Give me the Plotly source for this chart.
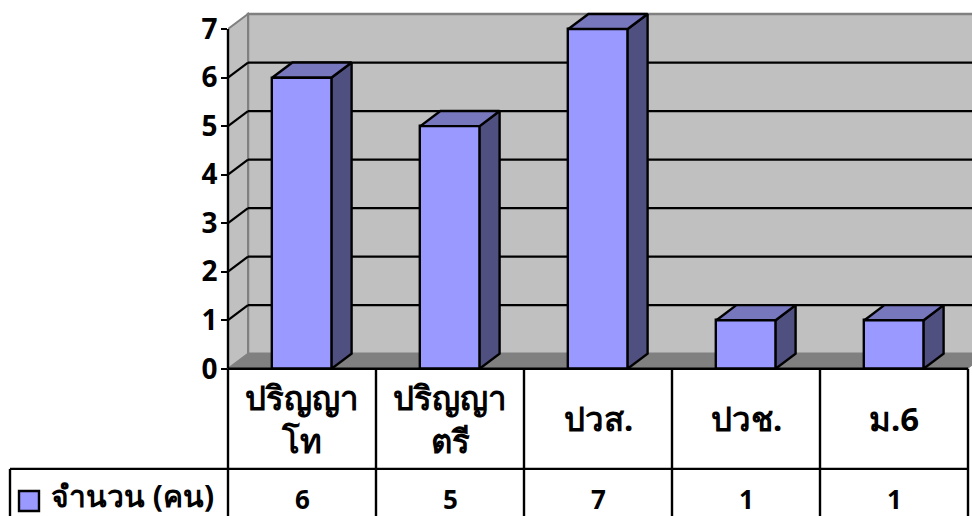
import plotly.graph_objects as go

# Data
categories = ["ปริญญา<br>โท", "ปริญญา<br>ตรี", "ปวส.", "ปวช.", "ม.6"]
values = [6, 5, 7, 1, 1]
series_name = "จำนวน (คน)"
y_ticks = [0, 1, 2, 3, 4, 5, 6, 7]

# Layout constants (pixels of the 972x516 canvas)
W, H = 972, 516
FIG_H = 535                # layout height that comes out as the full 516 px picture
X0, Y0 = 228, 368          # origin of the front plane
CAT_W, UNIT = 148, 48.43   # px per category / px per value unit
DX_PX, DY_PX = 20, 15      # 3-D depth offset
ROW_Y, TABLE_LEFT = 468, 10
FONT = "Noto Sans, DejaVu Sans, sans-serif"
TICK_FONT = "Open Sans, sans-serif"
FRONT, TOP, SIDE = "#9999FF", "#7777BD", "#4F4F80"
WALL, FLOOR, EDGE = "#C0C0C0", "#808080", "#808080"
BAR_W = 0.4

dx, dy = DX_PX / CAT_W, DY_PX / UNIT
xs = list(range(len(categories)))
x_min, x_max = -0.5, (W - X0) / CAT_W - 0.5
y_max = Y0 / UNIT
px = lambda v: v / W
py = lambda v: 1 - v / H

top_x, top_y, side_x, side_y = [], [], [], []
for x, v in zip(xs, values):
    l, r = x - BAR_W / 2, x + BAR_W / 2
    top_x += [l, r, r + dx, l + dx, l, None]
    top_y += [v, v, v + dy, v + dy, v, None]
    side_x += [r, r + dx, r + dx, r, r, None]
    side_y += [0, dy, v + dy, v, 0, None]

shapes = []
def poly(pts, fill, line="rgba(0,0,0,0)", width=0):
    d = "M" + " L".join(f"{a},{b}" for a, b in pts) + " Z"
    shapes.append(dict(type="path", path=d, xref="x", yref="y", layer="below",
                       fillcolor=fill, line=dict(color=line, width=width)))

wall_top = max(y_ticks) + dy
xl = x_min
poly([(xl + dx, dy), (x_max + 1, dy), (x_max + 1, wall_top), (xl + dx, wall_top)], WALL, EDGE, 2.5)
poly([(xl, 0), (xl + dx, dy), (xl + dx, wall_top), (xl, max(y_ticks))], WALL, EDGE, 2)
x_end = len(categories) - 0.5
poly([(xl, 0), (xl + dx, dy), (x_max + 1, dy), (x_end + dx, dy), (x_end, 0)], FLOOR)

for t in y_ticks[1:-1]:
    shapes.append(dict(type="line", xref="x", yref="y", layer="below", x0=xl + dx, x1=x_max + 1,
                       y0=t + dy, y1=t + dy, line=dict(color="black", width=2.2)))
    shapes.append(dict(type="line", xref="x", yref="y", layer="below", x0=xl, x1=xl + dx,
                       y0=t, y1=t + dy, line=dict(color="black", width=2.2)))

# Data-table rules
def rule(x0, y0, x1, y1):
    shapes.append(dict(type="line", xref="paper", yref="paper", x0=px(x0), x1=px(x1),
                       y0=py(y0), y1=py(y1), line=dict(color="black", width=2.4)))
rule(X0, Y0, X0 + CAT_W * len(categories), Y0)
rule(TABLE_LEFT, ROW_Y, X0 + CAT_W * len(categories), ROW_Y)
rule(TABLE_LEFT, ROW_Y, TABLE_LEFT, H)
for i in range(len(categories) + 1):
    rule(X0 + i * CAT_W, Y0, X0 + i * CAT_W, H)
rule(X0, Y0, X0, Y0 - UNIT * max(y_ticks))
shapes.append(dict(type="rect", xref="paper", yref="paper", x0=px(19), x1=px(39), y0=py(510), y1=py(490),
                   fillcolor=FRONT, line=dict(color="black", width=2.4)))

annotations = []
def label(x, y, text, anchor="center", size=33):
    annotations.append(dict(xref="paper", yref="paper", x=px(x), y=py(y), text=f"<b>{text}</b>",
                            showarrow=False, xanchor=anchor, yanchor="middle",
                            font=dict(family=FONT, size=size, color="black")))
for i, (c, v) in enumerate(zip(categories, values)):
    cx = X0 + (i + 0.5) * CAT_W
    label(cx, (Y0 + ROW_Y) / 2, c)
    label(cx, 498, v, size=26)
label(49, 495, series_name, anchor="left", size=30)

fig = go.Figure()
fig.add_trace(go.Bar(x=xs, y=values, width=BAR_W, name=series_name,
                     marker=dict(color=FRONT, line=dict(color="black", width=2.4))))
fig.add_trace(go.Scatter(x=side_x, y=side_y, mode="lines", fill="toself", fillcolor=SIDE,
                         line=dict(color="black", width=2.4), hoverinfo="skip"))
fig.add_trace(go.Scatter(x=top_x, y=top_y, mode="lines", fill="toself", fillcolor=TOP,
                         line=dict(color="black", width=2.4), hoverinfo="skip"))
fig.update_layout(
    width=W, height=FIG_H, autosize=False, showlegend=False, bargap=0,
    margin=dict(l=0, r=0, t=0, b=0), paper_bgcolor="white", plot_bgcolor="white",
    shapes=shapes, annotations=annotations,
    xaxis=dict(domain=[X0 / W, 1], range=[x_min, x_max], showgrid=False, zeroline=False,
               showticklabels=False, ticks=""),
    yaxis=dict(domain=[(H - Y0) / H, 1], range=[0, y_max], tickvals=y_ticks, showgrid=False, zeroline=False,
               ticks="outside", ticklen=6, tickwidth=2.2, tickcolor="black", ticklabelstandoff=-2,
               showline=False, tickfont=dict(family=TICK_FONT, size=28, color="black", weight="bold")),
)
fig.write_html("out.html", config={"displayModeBar": False},
               post_script="document.body.style.margin='0';document.documentElement.style.overflow='hidden';")
